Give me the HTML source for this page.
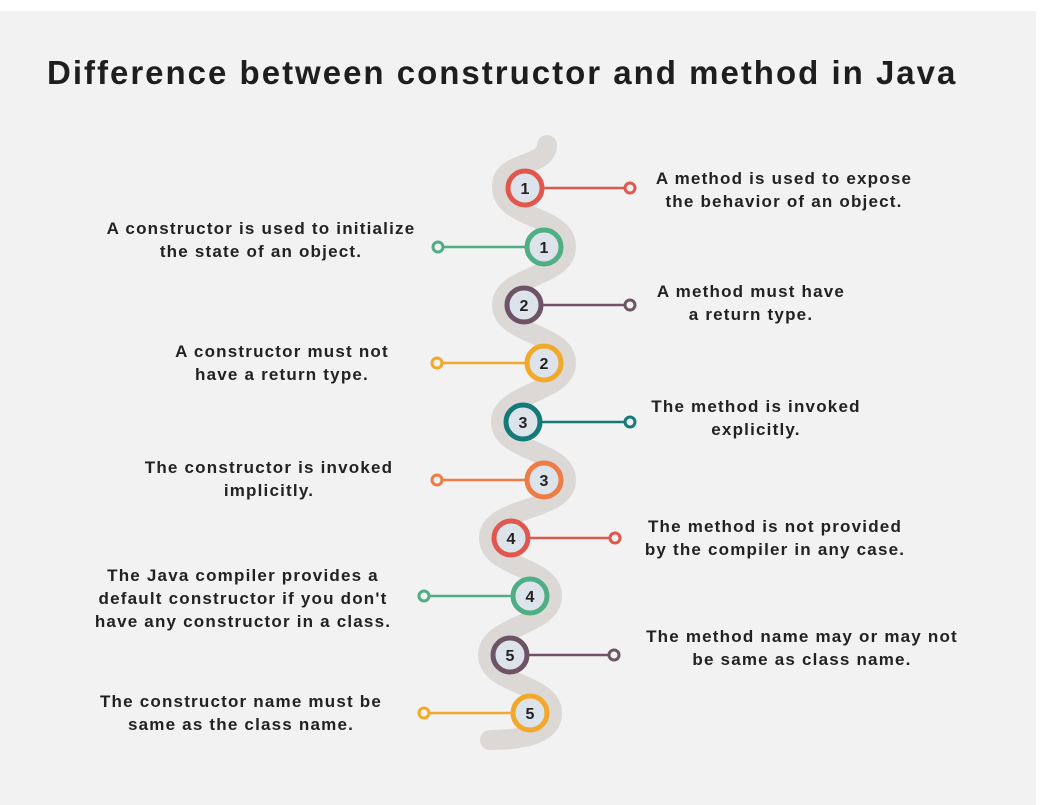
<!DOCTYPE html>
<html><head><meta charset="utf-8"><style>
html,body{margin:0;padding:0;background:#fff;}
#p{position:relative;width:1051px;height:805px;overflow:hidden;background:#fff;}
#bg{position:absolute;left:0;top:11px;width:1036px;height:794px;background:#f2f2f2;}
.t{position:absolute;font-family:"Liberation Sans",sans-serif;font-weight:bold;color:#222;font-size:17px;line-height:23px;letter-spacing:1.2px;text-align:center;white-space:nowrap;transform:translateX(-50%);}
h1{position:absolute;left:47px;top:54px;margin:0;font-family:"Liberation Sans",sans-serif;font-weight:bold;font-size:33px;letter-spacing:2px;color:#1e1e1e;white-space:nowrap;}
</style></head><body><div id="p"><div id="bg"></div>
<h1>Difference between constructor and method in Java</h1>
<svg width="1051" height="805" style="position:absolute;left:0;top:0">
<path d="M547 145 C547 168 500 160 502 188 C504 220 566 215 566 247 C566 278 502 275 502 305 C502 335 566 333 566 363 C566 393 501 392 501 422 C501 452 566 450 566 480 C566 512 489 506 489 538 C489 568 552 566 552 596 C552 626 488 625 488 655 C488 685 552 683 552 713 C552 735 520 740 490 740" fill="none" stroke="#dcd8d6" stroke-width="20" stroke-linecap="round"/>
<g stroke-width="2.5" fill="#f2f2f2">
<line x1="525" y1="188" x2="630" y2="188" stroke="#e0584d"/><circle cx="630" cy="188" r="5" stroke="#e0584d" stroke-width="3"/>
<line x1="544" y1="247" x2="438" y2="247" stroke="#4fae84"/><circle cx="438" cy="247" r="5" stroke="#4fae84" stroke-width="3"/>
<line x1="524" y1="305" x2="630" y2="305" stroke="#6e5366"/><circle cx="630" cy="305" r="5" stroke="#6e5366" stroke-width="3"/>
<line x1="544" y1="363" x2="437" y2="363" stroke="#f0a92a"/><circle cx="437" cy="363" r="5" stroke="#f0a92a" stroke-width="3"/>
<line x1="523" y1="422" x2="630" y2="422" stroke="#137a78"/><circle cx="630" cy="422" r="5" stroke="#137a78" stroke-width="3"/>
<line x1="544" y1="480" x2="437" y2="480" stroke="#ee7d45"/><circle cx="437" cy="480" r="5" stroke="#ee7d45" stroke-width="3"/>
<line x1="511" y1="538" x2="615" y2="538" stroke="#e0584d"/><circle cx="615" cy="538" r="5" stroke="#e0584d" stroke-width="3"/>
<line x1="530" y1="596" x2="424" y2="596" stroke="#4fae84"/><circle cx="424" cy="596" r="5" stroke="#4fae84" stroke-width="3"/>
<line x1="510" y1="655" x2="614" y2="655" stroke="#6e5366"/><circle cx="614" cy="655" r="5" stroke="#6e5366" stroke-width="3"/>
<line x1="530" y1="713" x2="424" y2="713" stroke="#f0a92a"/><circle cx="424" cy="713" r="5" stroke="#f0a92a" stroke-width="3"/>
</g>
<g fill="#dde3ea" stroke-width="5">
<circle cx="525" cy="188" r="17" stroke="#e0584d"/>
<circle cx="544" cy="247" r="17" stroke="#4fae84"/>
<circle cx="524" cy="305" r="17" stroke="#6e5366"/>
<circle cx="544" cy="363" r="17" stroke="#f0a92a"/>
<circle cx="523" cy="422" r="17" stroke="#137a78"/>
<circle cx="544" cy="480" r="17" stroke="#ee7d45"/>
<circle cx="511" cy="538" r="17" stroke="#e0584d"/>
<circle cx="530" cy="596" r="17" stroke="#4fae84"/>
<circle cx="510" cy="655" r="17" stroke="#6e5366"/>
<circle cx="530" cy="713" r="17" stroke="#f0a92a"/>
</g>
<g font-family="Liberation Sans,sans-serif" font-weight="bold" font-size="16" fill="#222" text-anchor="middle">
<text x="525" y="194">1</text><text x="544" y="253">1</text><text x="524" y="311">2</text><text x="544" y="369">2</text><text x="523" y="428">3</text><text x="544" y="486">3</text><text x="511" y="544">4</text><text x="530" y="602">4</text><text x="510" y="661">5</text><text x="530" y="719">5</text>
</g></svg>
<div class="t" style="left:784px;top:167px">A method is used to expose<br>the behavior of an object.</div>
<div class="t" style="left:261px;top:217px">A constructor is used to initialize<br>the state of an object.</div>
<div class="t" style="left:751px;top:280px">A method must have<br>a return type.</div>
<div class="t" style="left:282px;top:340px">A constructor must not<br>have a return type.</div>
<div class="t" style="left:756px;top:395px">The method is invoked<br>explicitly.</div>
<div class="t" style="left:269px;top:456px">The constructor is invoked<br>implicitly.</div>
<div class="t" style="left:775px;top:515px">The method is not provided<br>by the compiler in any case.</div>
<div class="t" style="left:243px;top:564px">The Java compiler provides a<br>default constructor if you don't<br>have any constructor in a class.</div>
<div class="t" style="left:802px;top:625px">The method name may or may not<br>be same as class name.</div>
<div class="t" style="left:241px;top:690px">The constructor name must be<br>same as the class name.</div>
</div></body></html>
